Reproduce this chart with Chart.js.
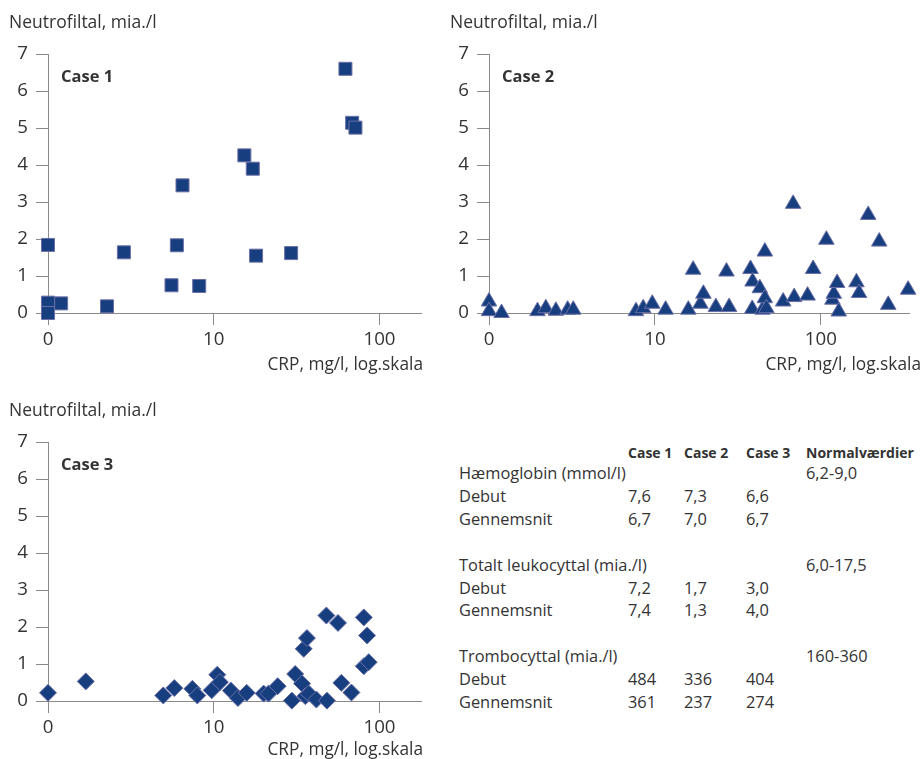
<!DOCTYPE html>
<html>
<head>
<meta charset="utf-8">
<script src="https://cdn.jsdelivr.net/npm/chart.js@4.4.1/dist/chart.umd.min.js"></script>
<style>
  html, body { margin:0; padding:0; background:#fff; width:923px; height:759px; overflow:hidden; }
  .wrap { position:absolute; }
  .tbl { position:absolute; font-family:"Open Sans", sans-serif; color:#333; white-space:nowrap; line-height:1; }
</style>
</head>
<body>
<div class="wrap" style="left:0;top:0;width:440px;height:380px;"><canvas id="c1"></canvas></div>
<div class="wrap" style="left:440px;top:0;width:483px;height:380px;"><canvas id="c2"></canvas></div>
<div class="wrap" style="left:0;top:388px;width:440px;height:380px;"><canvas id="c3"></canvas></div>
<div id="table"></div>
<script>
// ---------- data ----------
const xTickValues = [1, 10, 100];
const xTickLabels = ['0', '10', '100'];
const yTickValues = [0, 1, 2, 3, 4, 5, 6, 7];

const case1CRP  = [1, 1, 1, 1.2, 2.27, 2.87, 5.56, 5.99, 6.48, 8.17, 15.3, 17.2, 18.0, 29.3, 62.3, 68.4, 71.6];
const case1Neut = [1.84, 0.28, 0.0, 0.26, 0.18, 1.64, 0.75, 1.83, 3.45, 0.73, 4.26, 3.90, 1.55, 1.62, 6.60, 5.14, 5.01];

const case2CRP  = [1, 1, 1.19, 1.96, 2.2, 2.53, 2.98, 3.22, 7.69, 8.5, 9.64, 11.6, 15.9, 17.0, 18.8, 19.6, 23.3, 27.0, 28.0, 37.7, 38.8, 38.6, 42.9, 44.5, 46.0, 46.0, 47, 59.3, 68.1, 69.1, 83.2, 89.9, 108, 117.5, 119.7, 125.4, 128.3, 164, 170, 193, 225, 255, 336];
const case2Neut = [0.31, 0.05, 0.0, 0.05, 0.13, 0.06, 0.09, 0.09, 0.05, 0.13, 0.25, 0.09, 0.09, 1.17, 0.25, 0.52, 0.16, 1.12, 0.16, 1.19, 0.85, 0.11, 0.67, 0.09, 1.66, 0.40, 0.13, 0.31, 2.95, 0.43, 0.47, 1.19, 1.98, 0.36, 0.52, 0.81, 0.04, 0.83, 0.54, 2.65, 1.93, 0.22, 0.63];

const case3CRP  = [1, 1.69, 4.96, 5.78, 7.43, 7.96, 9.72, 10.5, 10.9, 12.7, 14.0, 15.8, 20.0, 21.4, 24.3, 29.6, 31.0, 34.1, 34.9, 36.5, 35.7, 37.4, 41.6, 47.8, 48.2, 56.2, 58.9, 67.7, 80.4, 80.4, 84.2, 86.1];
const case3Neut = [0.22, 0.53, 0.15, 0.35, 0.33, 0.15, 0.29, 0.71, 0.51, 0.28, 0.08, 0.22, 0.20, 0.20, 0.40, 0.01, 0.73, 0.47, 1.41, 1.70, 0.13, 0.20, 0.04, 2.31, 0.01, 2.11, 0.49, 0.23, 2.26, 0.94, 1.77, 1.05];

const caseNames = ['Case 1', 'Case 2', 'Case 3'];
const yAxisTitle = 'Neutrofiltal, mia./l';
const xAxisTitle = 'CRP, mg/l, log.skala';

const tableHeader = ['Case 1', 'Case 2', 'Case 3', 'Normalværdier'];
const groupLabels = ['Hæmoglobin (mmol/l)', 'Totalt leukocyttal (mia./l)', 'Trombocyttal (mia./l)'];
const groupNormal = ['6,2-9,0', '6,0-17,5', '160-360'];
const rowLabels = ['Debut', 'Gennemsnit'];
const debutValues = [['7,6', '7,3', '6,6'], ['7,2', '1,7', '3,0'], ['484', '336', '404']];
const meanValues  = [['6,7', '7,0', '6,7'], ['7,4', '1,3', '4,0'], ['361', '237', '274']];

// ---------- style ----------
const FAMILY = '"Open Sans", sans-serif';
const TEXT = '#333333';
const AXIS = '#8a8a8a';
const FILL = '#173f80';
const EDGE = '#6b6fa6';

// font size chosen so that a sample string has the width it has in the reference
const mctx = document.createElement('canvas').getContext('2d');
function fitSize(sample, weight, targetWidth) {
  mctx.font = weight + ' 100px ' + FAMILY;
  return Math.round(100 * targetWidth / mctx.measureText(sample).width * 10) / 10;
}
const yTitleSize = fitSize(yAxisTitle, 'normal', 148);
const xTitleSize = fitSize(xAxisTitle, 'normal', 156);
const caseSize   = fitSize('Case 1', 'bold', 52);
const tickSize   = fitSize('100', 'normal', 32);
const tblSize    = fitSize('Hæmoglobin (mmol/l)', 'normal', 167);
const tblBold    = fitSize('Normalværdier', 'bold', 108);

const textPlugin = {
  id: 'textLabels',
  afterDraw(chart, args, opts) {
    const ctx = chart.ctx;
    ctx.save();
    ctx.fillStyle = TEXT;
    ctx.textBaseline = 'alphabetic';
    (opts.items || []).forEach(it => {
      ctx.font = it.font;
      ctx.textAlign = it.align || 'left';
      ctx.fillText(it.text, it.x, it.y);
    });
    ctx.restore();
  }
};

function makeChart(id, xs, ys, style, radius, caseName, opt) {
  const data = xs.map((x, i) => ({ x: x, y: ys[i] }));
  return new Chart(document.getElementById(id), {
    type: 'scatter',
    data: { datasets: [{
      data: data,
      pointStyle: style,
      pointRadius: radius,
      pointHoverRadius: radius,
      backgroundColor: FILL,
      borderColor: EDGE,
      borderWidth: 1,
      clip: false
    }]},
    options: {
      responsive: true,
      maintainAspectRatio: false,
      animation: false,
      events: [],
      layout: { padding: { left: 0, top: 54, right: opt.right, bottom: 0 } },
      plugins: {
        legend: { display: false },
        tooltip: { enabled: false },
        textLabels: { items: [
          { text: yAxisTitle, x: opt.yTitleX, y: 28, font: yTitleSize + 'px ' + FAMILY },
          { text: caseName, x: opt.caseX, y: 82, font: 'bold ' + caseSize + 'px ' + FAMILY },
          { text: xAxisTitle, x: opt.xTitleRight, y: opt.xTitleY, font: xTitleSize + 'px ' + FAMILY, align: 'right' }
        ]}
      },
      scales: {
        x: {
          type: 'logarithmic',
          min: 1,
          max: opt.xmax,
          afterBuildTicks: s => { s.ticks = xTickValues.map(v => ({ value: v })); },
          afterFit: s => { s.height = opt.xh; },
          ticks: {
            autoSkip: false, maxRotation: 0,
            color: TEXT, font: { family: FAMILY, size: tickSize }, padding: 3,
            callback: (v) => { const i = xTickValues.indexOf(v); return i >= 0 ? xTickLabels[i] : ''; }
          },
          grid: { drawOnChartArea: false, drawTicks: true, tickLength: 12, color: AXIS, lineWidth: 1 },
          border: { display: true, color: AXIS, width: 1 }
        },
        y: {
          min: 0, max: 7,
          afterBuildTicks: s => { s.ticks = yTickValues.map(v => ({ value: v })); },
          afterFit: s => { s.width = opt.yw; },
          ticks: { color: TEXT, font: { family: FAMILY, size: tickSize }, padding: 8, autoSkip: false },
          grid: { drawOnChartArea: false, drawTicks: true, tickLength: 12, color: AXIS, lineWidth: 1 },
          border: { display: true, color: AXIS, width: 1 }
        }
      }
    },
    plugins: [textPlugin]
  });
}

makeChart('c1', case1CRP, case1Neut, 'rect', 9.2, caseNames[0],
  { right: 19, xmax: 178, xh: 67, yw: 48, yTitleX: 9, caseX: 61, xTitleRight: 423, xTitleY: 370 });
makeChart('c2', case2CRP, case2Neut, 'triangle', 9, caseNames[1],
  { right: 14, xmax: 340, xh: 67, yw: 49, yTitleX: 10, caseX: 62, xTitleRight: 481, xTitleY: 370 });
makeChart('c3', case3CRP, case3Neut, 'rectRot', 8.5, caseNames[2],
  { right: 19, xmax: 178, xh: 67, yw: 48, yTitleX: 9, caseX: 61, xTitleRight: 423, xTitleY: 367 });

// ---------- table ----------
const colX = [628, 684, 746, 806];
const labelX = 459;
const tbl = document.getElementById('table');
function put(text, x, baseline, bold) {
  const size = bold ? tblBold : tblSize;
  const d = document.createElement('div');
  d.className = 'tbl';
  d.style.fontSize = size + 'px';
  d.style.lineHeight = size + 'px';
  d.style.left = x + 'px';
  // Open Sans: ascent 1.069em, descent 0.293em -> baseline offset within a 1em line box
  d.style.top = (baseline - size * (1.069 - (1.362 - 1) / 2)) + 'px';
  if (bold) d.style.fontWeight = '700';
  d.textContent = text;
  tbl.appendChild(d);
}
tableHeader.forEach((h, i) => put(h, colX[i], 458, true));
const groupBase = [480, 571.5, 663];
const rowStep = 22.7;
groupLabels.forEach((g, gi) => {
  const b = groupBase[gi];
  put(g, labelX, b);
  put(groupNormal[gi], colX[3], b);
  put(rowLabels[0], labelX, b + rowStep);
  debutValues[gi].forEach((v, i) => put(v, colX[i], b + rowStep));
  put(rowLabels[1], labelX, b + 2 * rowStep);
  meanValues[gi].forEach((v, i) => put(v, colX[i], b + 2 * rowStep));
});
</script>
</body>
</html>
